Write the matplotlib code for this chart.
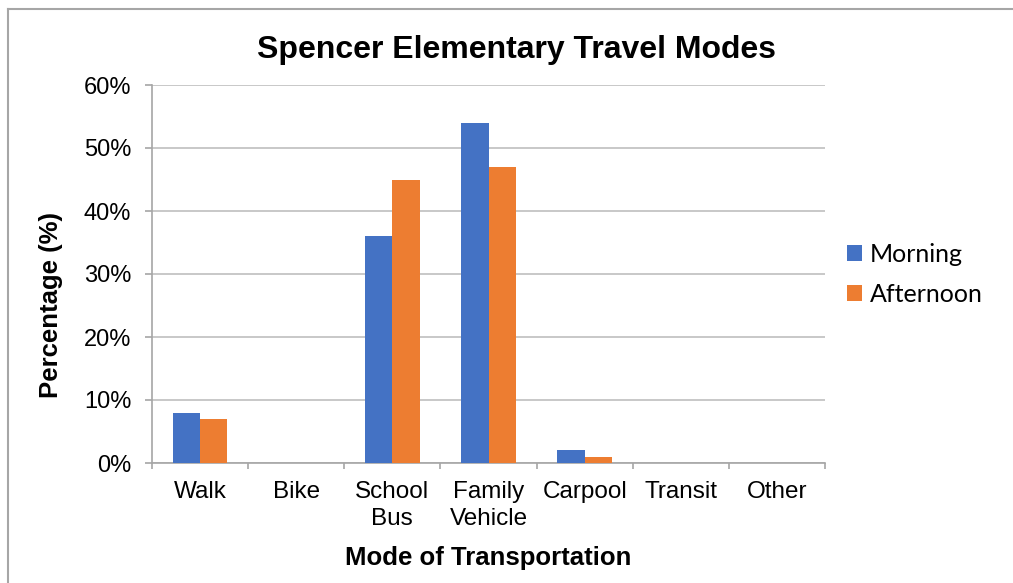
import matplotlib
matplotlib.use('Agg')
import matplotlib.pyplot as plt
import numpy as np
from matplotlib.lines import Line2D

plt.rcParams['font.family'] = ['Liberation Sans', 'DejaVu Sans']

# データ
categories = ['Walk', 'Bike', 'School\nBus', 'Family\nVehicle', 'Carpool', 'Transit', 'Other']
morning = [8, 0, 36, 54, 2, 0, 0]
afternoon = [7, 0, 45, 47, 1, 0, 0]
series_names = ['Morning', 'Afternoon']
y_ticks = [0, 10, 20, 30, 40, 50, 60]

blue = '#4472C4'
orange = '#ED7D31'
axis_gray = '#a6a6a6'
grid_gray = '#bfbfbf'

W, H = 1013, 583
fig = plt.figure(figsize=(W / 100, H / 100), dpi=100)

# プロット領域 (ピクセル座標から)
left, right, top, bottom = 152, 825, 85, 463
ax = fig.add_axes([left / W, (H - bottom) / H, (right - left) / W, (bottom - top) / H])

x = np.arange(len(categories))
bw = 0.284
ax.bar(x - bw / 2, morning, width=bw, color=blue, label=series_names[0], zorder=3)
ax.bar(x + bw / 2, afternoon, width=bw, color=orange, label=series_names[1], zorder=3)

ax.set_xlim(-0.5, len(categories) - 0.5)
ax.set_ylim(0, 60)
ax.set_yticks(y_ticks)
ax.set_yticklabels([f'{v}%' for v in y_ticks], fontsize=17)
ax.set_xticks(np.arange(len(categories) + 1) - 0.5)
ax.set_xticklabels([])
ax.set_xticks(x, minor=True)
ax.set_xticklabels(categories, minor=True, fontsize=17.5, linespacing=1.3)
ax.tick_params(axis='x', which='minor', length=0, pad=13)
ax.tick_params(axis='x', which='major', length=4.5, color=axis_gray, width=1.2)
ax.tick_params(axis='y', length=5, color=axis_gray, width=1.2, pad=10)

ax.grid(axis='y', color=grid_gray, linewidth=1.2, zorder=0)
for s in ['top', 'right']:
    ax.spines[s].set_visible(False)
for s in ['left', 'bottom']:
    ax.spines[s].set_color(axis_gray)
    ax.spines[s].set_linewidth(1.2)

# タイトルと軸ラベル
fig.text(516 / W, 1 - 50 / H, 'Spencer Elementary Travel Modes', fontsize=23,
         fontweight='bold', ha='center', va='center')
fig.text(488 / W, 1 - 558 / H, 'Mode of Transportation', fontsize=18.5,
         fontweight='bold', ha='center', va='center')
fig.text(51 / W, 1 - 305 / H, 'Percentage (%)', fontsize=18.5, fontweight='bold',
         ha='center', va='center', rotation=90)

# 凡例
leg = fig.legend(loc='center left', bbox_to_anchor=(824 / W, 1 - 274 / H),
                 frameon=False, prop={'family': 'Lato', 'size': 18},
                 handlelength=0.62, handleheight=0.62, handletextpad=0.3,
                 labelspacing=0.68)

# 外枠 (上と左のみ)
fig.add_artist(Line2D([8 / W, 1], [1 - 9 / H, 1 - 9 / H], color='#a6a6a6', linewidth=1.5,
                      transform=fig.transFigure))
fig.add_artist(Line2D([8 / W, 8 / W], [1 - 9 / H, 0], color='#a6a6a6', linewidth=1.5,
                      transform=fig.transFigure))

plt.savefig('out.png', dpi=100)
plt.close()
